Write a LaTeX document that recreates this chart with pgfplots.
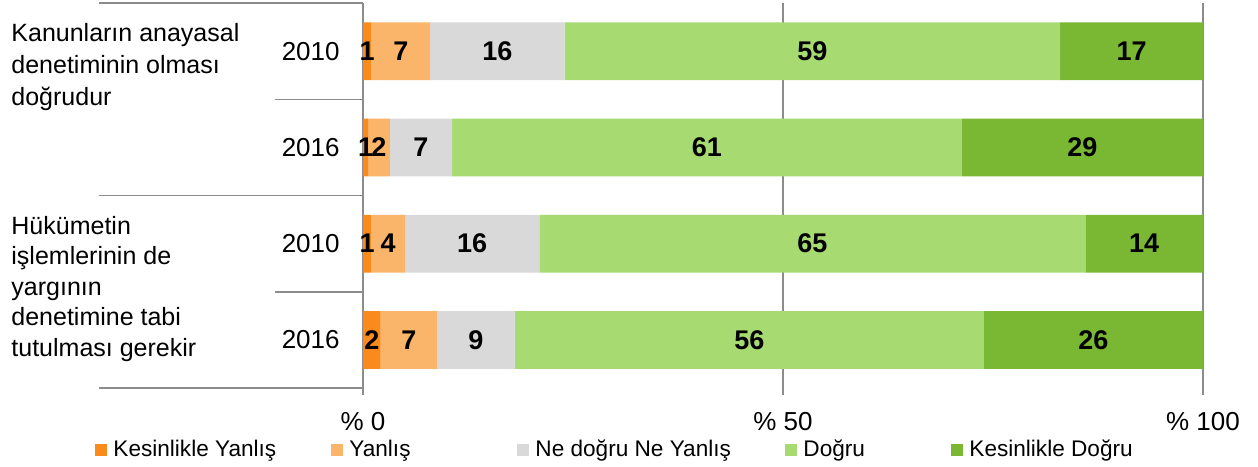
\documentclass[border=0pt]{standalone}
\usepackage{pgfplots}
\pgfplotsset{compat=1.18}
\usepackage{pgfplotstable}
\usepackage{fontspec}
\setmainfont{Liberation Sans}
\definecolor{c1}{HTML}{F98A1B}
\definecolor{c2}{HTML}{FBB56A}
\definecolor{c3}{HTML}{D9D9D9}
\definecolor{c4}{HTML}{A8DA72}
\definecolor{c5}{HTML}{7AB733}
\definecolor{ln}{HTML}{8C8C8C}

\pgfplotstableread{
y v1 v2 v3 v4 v5 l1 l2 l3 l4 l5
0 1 7 16 59 17 1 7 16 59 17
1 0.6 2.6 7.4 60.7 28.7 1 2 7 61 29
2 1 4 16 65 14 1 4 16 65 14
3 2.1 6.7 9.3 55.8 26.1 2 7 9 56 26
}\data

\begin{document}
\begin{tikzpicture}
\useasboundingbox (0,0) rectangle (629pt,233pt);
\begin{axis}[
  at={(181.5pt,39pt)}, anchor=south west,
  scale only axis, width=420pt, height=192.5pt,
  xbar stacked, bar width=0.6,
  xmin=0, xmax=100, ymin=-0.5, ymax=3.5, y dir=reverse,
  axis lines*=left,
  x axis line style={draw=none},
  y axis line style={draw=ln, line width=0.75pt},
  xtick={0,50,100}, xticklabels={\% 0,\% 50,\% 100},
  xmajorgrids, grid style={draw=ln, line width=0.75pt},
  xtick align=outside, major tick length=3.5pt,
  x tick style={draw=ln, line width=0.75pt},
  y tick style={draw=none},
  xticklabel style={font=\fontsize{13}{15}\selectfont, yshift=-5pt},
  ytick={0,1,2,3}, yticklabels={2010,2016,2010,2016},
  yticklabel style={font=\fontsize{13}{15}\selectfont, anchor=east, inner sep=0pt, xshift=-11.5pt},
  clip=false,
  point meta=explicit symbolic,
  nodes near coords,
  every node near coord/.append style={anchor=center, font=\fontsize{13.5}{13.5}\selectfont\bfseries, text=black},
  legend style={at={(-0.319,-0.161)}, anchor=west, draw=none, fill=none, legend columns=5,
    font=\fontsize{11.3}{13}\selectfont, inner sep=0pt, nodes={inner sep=0pt},
    /tikz/every odd column/.style={column sep=3pt},
    /tikz/every even column/.style={column sep=0pt}},
  legend image code/.code={\fill[#1] (0pt,-3pt) rectangle (6pt,3pt);},
]
\addplot[fill=c1, draw=none] table[x=v1, y=y, meta=l1] {\data};
\addplot[fill=c2, draw=none] table[x=v2, y=y, meta=l2] {\data};
\addplot[fill=c3, draw=none] table[x=v3, y=y, meta=l3] {\data};
\addplot[fill=c4, draw=none] table[x=v4, y=y, meta=l4] {\data};
\addplot[fill=c5, draw=none] table[x=v5, y=y, meta=l5] {\data};
\legend{\makebox[109pt][l]{Kesinlikle Yanlış},\makebox[84pt][l]{Yanlış},\makebox[125pt][l]{Ne doğru Ne Yanlış},\makebox[74pt][l]{Doğru},Kesinlikle Doğru}
\draw[ln, line width=0.75pt] (axis cs:-31.43,-0.5) -- (axis cs:0,-0.5);
\draw[ln, line width=0.75pt] (axis cs:-10.48,0.5) -- (axis cs:0,0.5);
\draw[ln, line width=0.75pt] (axis cs:-31.43,1.5) -- (axis cs:0,1.5);
\draw[ln, line width=0.75pt] (axis cs:-10.48,2.5) -- (axis cs:0,2.5);
\draw[ln, line width=0.75pt] (axis cs:-31.43,3.5) -- (axis cs:0,3.5);
\node[anchor=west, align=left, inner sep=0pt, font=\fontsize{12.5}{16}\selectfont] at (axis cs:-41.9,0.17) {Kanunların anayasal\\denetiminin olması\\doğrudur};
\node[anchor=west, align=left, inner sep=0pt, font=\fontsize{12.5}{15.3}\selectfont] at (axis cs:-41.9,2.47) {Hükümetin\\işlemlerinin de\\yargının\\denetimine tabi\\tutulması gerekir};
\end{axis}
\end{tikzpicture}
\end{document}
